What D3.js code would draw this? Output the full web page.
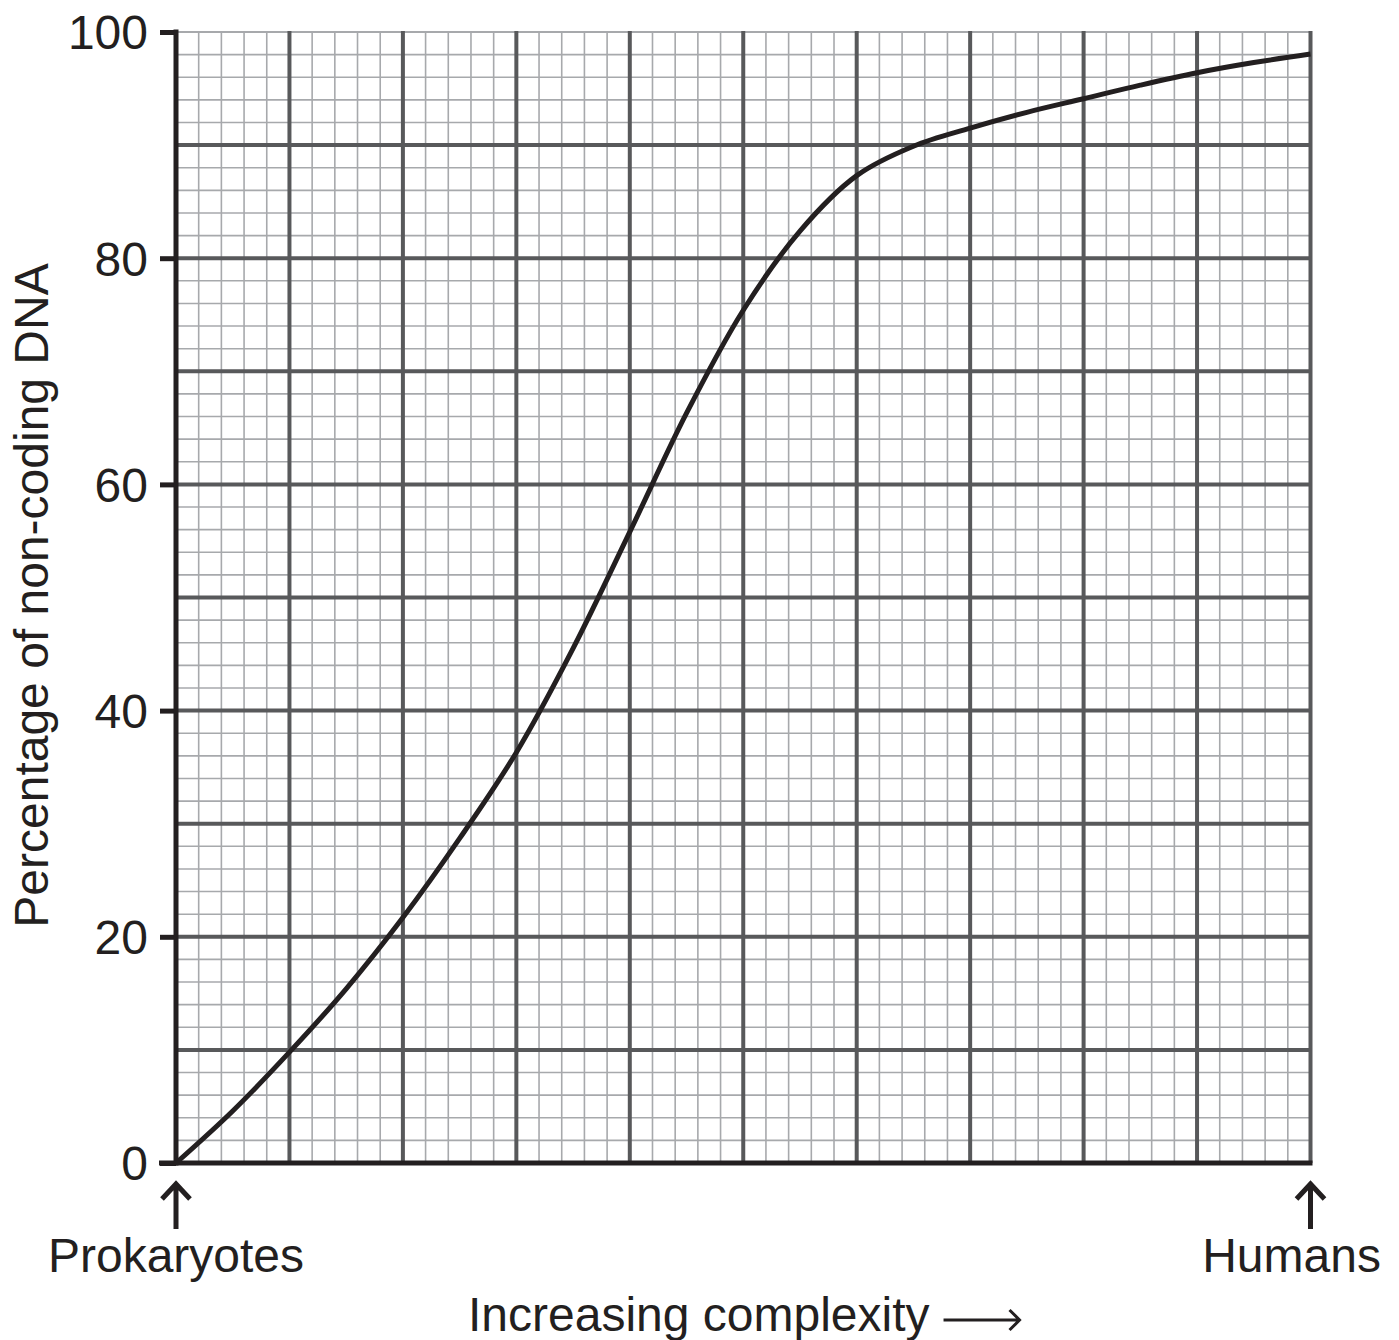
<!DOCTYPE html>
<html lang="en">
<head>
<meta charset="utf-8">
<title>Non-coding DNA vs complexity</title>
<script src="https://cdn.jsdelivr.net/npm/d3@7"></script>
<style>
	body { margin: 0; background: white; }
	svg text { font-family: "Liberation Sans", Arial, sans-serif; fill: #231f20; }
</style>
</head>
<body>
<svg id="chart" width="1399" height="1340"></svg>
<script>
// complexity position (major grid squares from prokaryotes) and % non-coding DNA
var complexity = [0, 0.5, 1, 1.5, 2, 2.5, 3, 3.5, 4, 4.5, 5, 5.5, 6, 6.5, 7, 7.5, 8, 8.5, 9, 9.5, 10]
var nonCoding  = [0, 4.6, 9.8, 15.4, 21.7, 28.7, 36.3, 45.5, 55.8, 66.3, 75.4, 82.4, 87.3, 89.9, 91.5, 92.9, 94.1, 95.3, 96.4, 97.3, 98.05]
var yTicks = [0, 20, 40, 60, 80, 100]
var endLabels = [{x: 0, text: "Prokaryotes"}, {x: 10, text: "Humans"}]

var ink = "#231f20"
var fs = 48
var svg = d3.select("#chart")
var x = d3.scaleLinear().domain([0, 10]).range([176, 1310.5])
var y = d3.scaleLinear().domain([0, 100]).range([1163, 32])

//graph paper: minor every 0.2 / 2, major every 1 / 10
var minorX = d3.range(1, 50).map(function(i) {return i / 5}).filter(function(v) {return Math.abs(v - Math.round(v)) > 1e-6})
var minorY = d3.range(1, 50).map(function(i) {return i * 2}).filter(function(v) {return v % 10 != 0})
var majorX = d3.range(1, 11)
var majorY = d3.range(10, 100, 10)

var grid = svg.append("g")
grid.selectAll(".mx").data(minorX).enter().append("line")
	.attr("x1", function(d) {return x(d)}).attr("x2", function(d) {return x(d)})
	.attr("y1", y(100)).attr("y2", y(0))
	.attr("stroke", "#a7a9ac").attr("stroke-width", 1.6)
grid.selectAll(".my").data(minorY).enter().append("line")
	.attr("y1", function(d) {return y(d)}).attr("y2", function(d) {return y(d)})
	.attr("x1", x(0)).attr("x2", x(10))
	.attr("stroke", "#a7a9ac").attr("stroke-width", 1.6)
//top edge is drawn light like the minor lines
grid.append("line")
	.attr("x1", x(0)).attr("x2", x(10)).attr("y1", y(100)).attr("y2", y(100))
	.attr("stroke", "#a7a9ac").attr("stroke-width", 2.2)
grid.selectAll(".Mx").data(majorX).enter().append("line")
	.attr("x1", function(d) {return x(d)}).attr("x2", function(d) {return x(d)})
	.attr("y1", y(100) - 1).attr("y2", y(0))
	.attr("stroke", "#58595b").attr("stroke-width", 4)
grid.selectAll(".My").data(majorY).enter().append("line")
	.attr("y1", function(d) {return y(d)}).attr("y2", function(d) {return y(d)})
	.attr("x1", x(0)).attr("x2", x(10))
	.attr("stroke", "#58595b").attr("stroke-width", 4)

//the curve
var line = d3.line()
	.x(function(d, i) {return x(complexity[i])})
	.y(function(d) {return y(d)})
	.curve(d3.curveCatmullRom.alpha(0.5))
svg.append("path")
	.datum(nonCoding)
	.attr("d", line)
	.attr("fill", "none")
	.attr("stroke", ink)
	.attr("stroke-width", 5)

//y axis
var yAxis = d3.axisLeft(y).tickValues(yTicks).tickSize(16).tickPadding(12)
var gy = svg.append("g").attr("transform", "translate(" + x(0) + ",0)").call(yAxis)
gy.select(".domain").remove()
gy.selectAll(".tick line").attr("stroke", ink).attr("stroke-width", 5)
gy.selectAll(".tick text")
	.attr("font-size", fs).attr("fill", ink)
	.attr("font-family", "Liberation Sans, Arial, sans-serif")
	.attr("dy", "0.35em")
svg.append("line")
	.attr("x1", x(0)).attr("x2", x(0)).attr("y1", y(100) - 2.5).attr("y2", y(0) + 2.5)
	.attr("stroke", ink).attr("stroke-width", 5)
//x axis
svg.append("line")
	.attr("x1", x(0) - 17).attr("x2", x(10) + 2).attr("y1", y(0)).attr("y2", y(0))
	.attr("stroke", ink).attr("stroke-width", 5)

svg.append("text")
	.attr("transform", "translate(48," + (y(50) - 2) + ") rotate(-90)")
	.attr("text-anchor", "middle")
	.attr("font-size", fs)
	.text("Percentage of non-coding DNA")

//arrows and labels for the ends
var ends = svg.selectAll(".end").data(endLabels).enter().append("g")
	.attr("transform", function(d) {return "translate(" + x(d.x) + ",0)"})
ends.append("path")
	.attr("d", "M0,1229 L0,1184 M-14,1199 L0,1184 L14,1199")
	.attr("fill", "none").attr("stroke", ink).attr("stroke-width", 5)
ends.append("text")
	.attr("y", 1272)
	.attr("dx", function(d) {return d.x == 0 ? 0 : -19})
	.attr("text-anchor", "middle")
	.attr("font-size", fs)
	.text(function(d) {return d.text})

var xt = svg.append("text")
	.attr("x", 468).attr("y", 1331)
	.attr("font-size", fs)
	.text("Increasing complexity")
var tw = xt.node().getComputedTextLength()
var ax0 = 468 + tw + 14
svg.append("path")
	.attr("d", "M" + ax0 + ",1320 L" + (ax0 + 76) + ",1320 M" + (ax0 + 66) + ",1310 L" + (ax0 + 76) + ",1320 L" + (ax0 + 66) + ",1330")
	.attr("fill", "none").attr("stroke", ink).attr("stroke-width", 3)
</script>
</body>
</html>
